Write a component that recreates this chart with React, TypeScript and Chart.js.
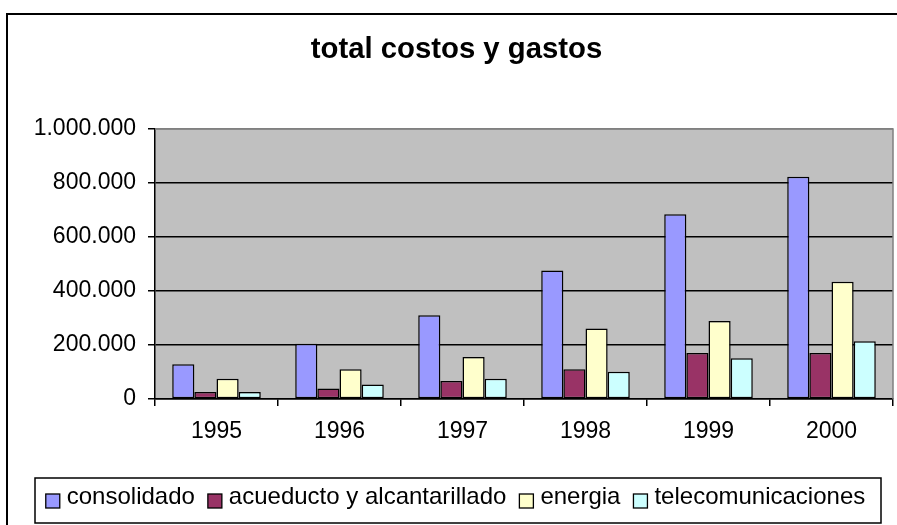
import React, { useEffect, useRef } from "react";
import { Chart, registerables } from "chart.js";

Chart.register(...registerables);

const years = ["1995", "1996", "1997", "1998", "1999", "2000"];
const consolidado = [129000, 205000, 310000, 476000, 684000, 823000];
const acueducto = [26000, 39000, 67000, 110000, 170000, 170000];
const energia = [75000, 110000, 156000, 261000, 289000, 434000];
const telecomunicaciones = [26000, 54000, 75000, 101000, 151000, 214000];

const seriesNames = ["consolidado", "acueducto y alcantarillado", "energia", "telecomunicaciones"];
const seriesColors = ["#9999FF", "#993366", "#FFFFCC", "#CCFFFF"];
const titleText = "total costos y gastos";
const yMax = 1000000;
const yStep = 200000;

const FONT = '"Liberation Sans", Arial, sans-serif';

const fmt = (v: number) => String(Math.round(v)).replace(/\B(?=(\d{3})+(?!\d))/g, ".");

const decorPlugin = {
  id: "decor",
  beforeDraw(chart: any) {
    const { ctx, chartArea } = chart;
    ctx.save();
    ctx.fillStyle = "#FFFFFF";
    ctx.fillRect(0, 0, chart.width, chart.height);
    ctx.fillStyle = "#C0C0C0";
    ctx.fillRect(chartArea.left, chartArea.top, chartArea.right - chartArea.left, chartArea.bottom - chartArea.top);
    ctx.restore();
  },
  afterDraw(chart: any) {
    const { ctx, chartArea } = chart;
    ctx.save();
    // plot area top / right border
    ctx.strokeStyle = "#808080";
    ctx.lineWidth = 1.5;
    ctx.beginPath();
    ctx.moveTo(chartArea.left, chartArea.top);
    ctx.lineTo(chartArea.right, chartArea.top);
    ctx.lineTo(chartArea.right, chartArea.bottom);
    ctx.stroke();
    // outer frame (continues past the right and bottom edges)
    ctx.strokeStyle = "#000000";
    ctx.lineWidth = 2;
    ctx.strokeRect(7, 14, 1000, 1000);
    // title
    ctx.fillStyle = "#000000";
    ctx.font = `bold 29.3px ${FONT}`;
    ctx.textAlign = "center";
    ctx.textBaseline = "alphabetic";
    ctx.fillText(titleText, 456.5, 57.5);
    // legend
    const boxL = 35, boxT = 478, boxR = 881, boxB = 523;
    ctx.lineWidth = 1.5;
    ctx.strokeRect(boxL, boxT, boxR - boxL, boxB - boxT);
    ctx.font = `24px ${FONT}`;
    ctx.textAlign = "left";
    const sq = 14, gap = 7, itemGap = 13;
    const ds = chart.data.datasets;
    const widths = ds.map((d: any) => ctx.measureText(d.label).width);
    let total = 0;
    widths.forEach((w: number) => (total += sq + gap + w));
    total += itemGap * (ds.length - 1);
    let x = 455.5 - total / 2;
    const baseline = 504;
    ds.forEach((d: any, i: number) => {
      ctx.fillStyle = d.backgroundColor;
      ctx.fillRect(x, baseline - 10, sq, sq);
      ctx.strokeStyle = "#000000";
      ctx.lineWidth = 1.3;
      ctx.strokeRect(x, baseline - 10, sq, sq);
      ctx.fillStyle = "#000000";
      ctx.fillText(d.label, x + sq + gap, baseline);
      x += sq + gap + widths[i] + itemGap;
    });
    ctx.restore();
  },
};

export default function App() {
  const ref = useRef<HTMLCanvasElement | null>(null);
  useEffect(() => {
    if (!ref.current) return;
    const seriesData = [consolidado, acueducto, energia, telecomunicaciones];
    const chart = new Chart(ref.current, {
      type: "bar",
      data: {
        labels: years,
        datasets: seriesData.map((d, i) => ({
          label: seriesNames[i],
          data: d,
          backgroundColor: seriesColors[i],
          borderColor: "#000000",
          borderWidth: 1.5,
          borderSkipped: false,
          inflateAmount: 0,
          categoryPercentage: 0.72,
          barPercentage: 1,
        })),
      },
      options: {
        animation: false,
        responsive: false,
        devicePixelRatio: 1,
        datasets: { bar: { categoryPercentage: 0.72, barPercentage: 1 } },
        layout: { padding: { left: 0, right: 4, top: 129, bottom: 0 } },
        plugins: {
          legend: { display: false },
          title: { display: false },
          tooltip: { enabled: false },
        },
        scales: {
          x: {
            offset: true,
            grid: {
              offset: true,
              drawOnChartArea: false,
              drawTicks: true,
              tickLength: 7,
              color: "#000000",
              lineWidth: 1.5,
            },
            border: { display: true, color: "#000000", width: 1.5 },
            ticks: {
              color: "#000000",
              font: { family: FONT, size: 23 },
              padding: 12,
              maxRotation: 0,
            },
            afterFit: (axis: any) => {
              axis.height = 126;
            },
          },
          y: {
            min: 0,
            max: yMax,
            grid: {
              color: (c: any) => (c.tick && c.tick.value === yMax ? "#808080" : "#000000"),
              tickColor: "#000000",
              lineWidth: 1.5,
              drawTicks: true,
              tickLength: 7,
            },
            border: { display: true, color: "#000000", width: 1.5 },
            ticks: {
              stepSize: yStep,
              color: "#000000",
              font: { family: FONT, size: 23 },
              padding: 12,
              callback: (v: any) => fmt(Number(v)),
            },
            afterFit: (axis: any) => {
              axis.width = 155;
            },
          },
        },
      },
      plugins: [decorPlugin],
    });
    return () => chart.destroy();
  }, []);
  return (
    <div style={{ position: "absolute", left: 0, top: 0, width: 897, height: 525 }}>
      <canvas ref={ref} width={897} height={525} style={{ display: "block", width: 897, height: 525 }} />
    </div>
  );
}
